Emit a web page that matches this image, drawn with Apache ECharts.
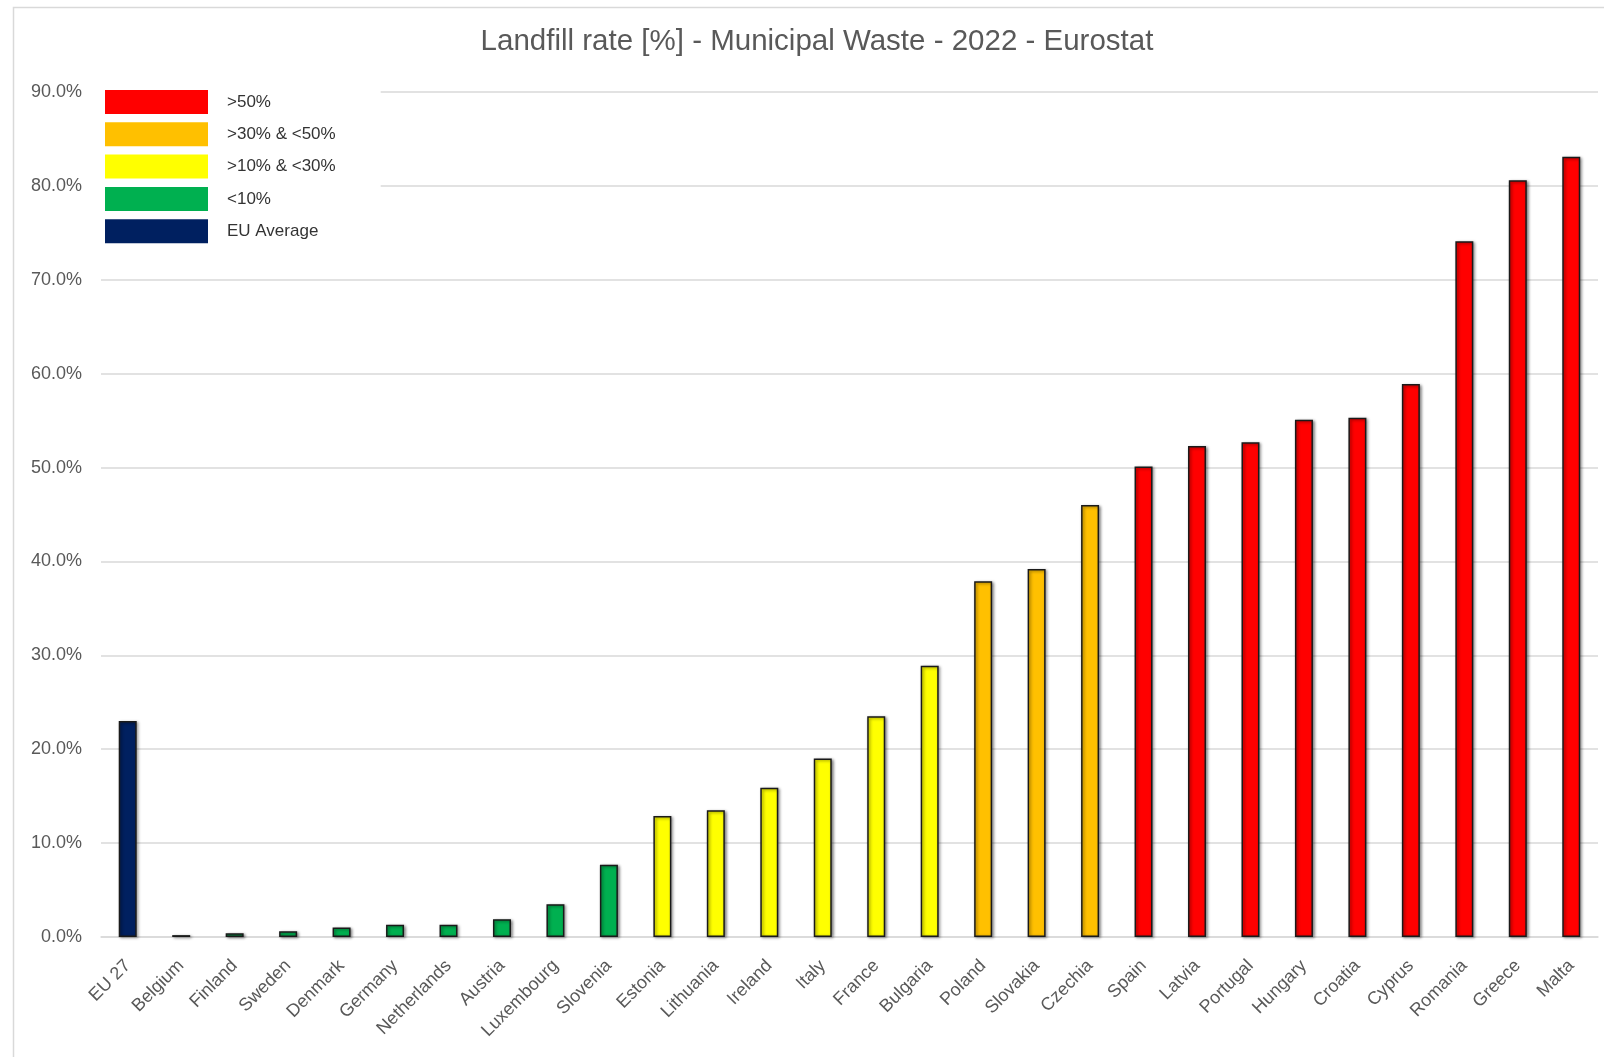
<!DOCTYPE html>
<html>
<head>
<meta charset="utf-8">
<script src="https://cdn.jsdelivr.net/npm/echarts@6/dist/echarts.min.js"></script>
<style>
html,body{margin:0;padding:0;background:#fff;}
#chart{width:1604px;height:1057px;}
</style>
</head>
<body>
<div id="chart"></div>
<script>
const countries = ['EU 27','Belgium','Finland','Sweden','Denmark','Germany','Netherlands','Austria','Luxembourg','Slovenia','Estonia','Lithuania','Ireland','Italy','France','Bulgaria','Poland','Slovakia','Czechia','Spain','Latvia','Portugal','Hungary','Croatia','Cyprus','Romania','Greece','Malta'];
const values = [23.0,0.2,0.4,0.6,1.0,1.3,1.3,1.9,3.5,7.7,12.9,13.5,15.9,19.0,23.5,28.9,37.9,39.2,46.0,50.1,52.3,52.7,55.1,55.3,58.9,74.1,80.6,83.1];
const legendNames = ['>50%','>30% & <50%','>10% & <30%','<10%','EU Average'];
const groupColors = ['#FF0000','#FFC000','#FFFF00','#00B050','#002060'];
const yTicks = [0,10,20,30,40,50,60,70,80,90];

function groupOf(i){
  if (countries[i] === 'EU 27') return 4;
  const v = values[i];
  if (v > 50) return 0;
  if (v > 30) return 1;
  if (v > 10) return 2;
  return 3;
}

const series = legendNames.map((name, g) => ({
  name: name,
  type: 'bar',
  stack: 'all',
  barWidth: 18,
  data: values.map((v, i) => groupOf(i) === g ? v : '-'),
  itemStyle: {
    color: groupColors[g],
    borderColor: '#1a1a1a',
    borderWidth: 1.5,
    shadowColor: 'rgba(0,0,0,0.45)',
    shadowBlur: 3,
    shadowOffsetX: 1.5,
    shadowOffsetY: 1
  },
  emphasis: {disabled: true}
}));

const chart = echarts.init(document.getElementById('chart'), null, {renderer: 'canvas'});
chart.setOption({
  animation: false,
  backgroundColor: '#ffffff',
  graphic: [
    {type: 'rect', left: 11, top: 5, shape: {x: 0, y: 0, width: 1620, height: 1080}, style: {fill: 'none', stroke: '#d9d9d9', lineWidth: 1.5}, z: 0, silent: true},
    {type: 'text', x: 817, y: 42, style: {text: 'Landfill rate [%] - Municipal Waste - 2022 - Eurostat', font: '29.5px "Liberation Sans", Arial, sans-serif', fill: '#595959', align: 'center', verticalAlign: 'middle'}, z: 10}
  ],
  legend: {
    data: legendNames,
    orient: 'vertical',
    left: 100,
    top: 85,
    padding: [5, 45, 6, 5],
    backgroundColor: '#ffffff',
    itemWidth: 103,
    itemHeight: 24,
    itemGap: 8.3,
    icon: 'rect',
    itemStyle: {borderWidth: 0, shadowBlur: 0, shadowOffsetX: 0, shadowOffsetY: 0},
    textStyle: {fontSize: 17, color: '#333333', fontFamily: '"Liberation Sans", Arial, sans-serif', padding: [0, 0, 0, 14]},
    selectedMode: false
  },
  grid: {left: 101, right: 6, top: 92, bottom: 120, containLabel: false},
  xAxis: {
    type: 'category',
    data: countries,
    axisLine: {show: true, lineStyle: {color: '#d9d9d9', width: 1.5}},
    axisTick: {show: false},
    axisLabel: {interval: 0, rotate: 45, margin: 26, fontSize: 18, color: '#595959', fontFamily: '"Liberation Sans", Arial, sans-serif'}
  },
  yAxis: {
    type: 'value',
    min: yTicks[0],
    max: yTicks[yTicks.length - 1],
    interval: 10,
    axisLine: {show: false},
    axisTick: {show: false},
    splitLine: {lineStyle: {color: '#d9d9d9', width: 1.5}},
    axisLabel: {margin: 19, fontSize: 18, color: '#595959', fontFamily: '"Liberation Sans", Arial, sans-serif', formatter: v => v.toFixed(1) + '%'}
  },
  series: series
});
</script>
</body>
</html>
